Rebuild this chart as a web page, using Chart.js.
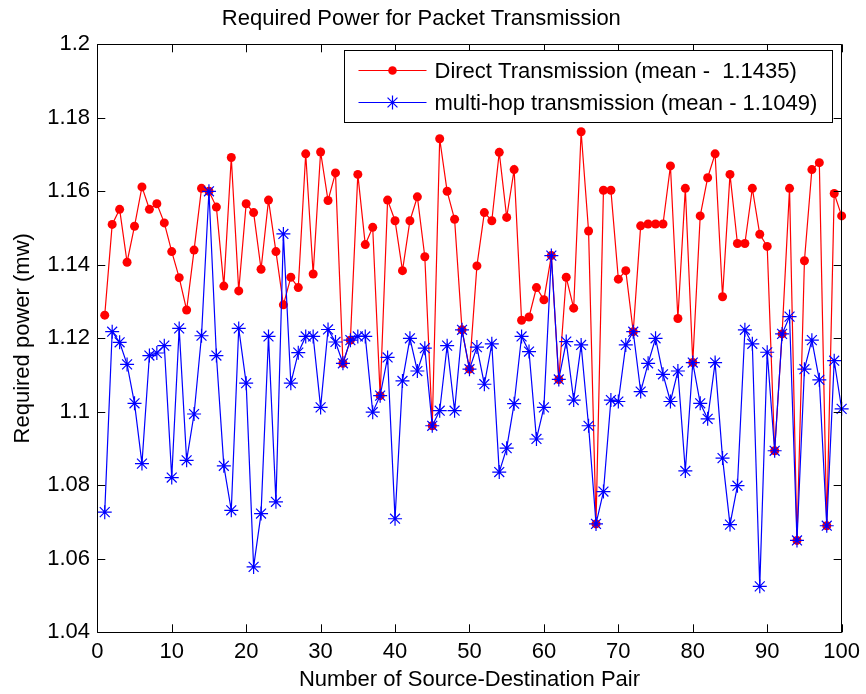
<!DOCTYPE html>
<html>
<head>
<meta charset="utf-8">
<title>Required Power for Packet Transmission</title>
<script src="https://cdn.jsdelivr.net/npm/chart.js@4/dist/chart.umd.min.js"></script>
<style>
  html, body { margin: 0; padding: 0; background: #fff; }
  canvas { display: block; }
</style>
</head>
<body>
<canvas id="chart" width="866" height="694"></canvas>
<script>
// Source-destination pair index (x axis)
const pairIds = Array.from({ length: 100 }, (_, i) => i + 1);

// Required power per pair, direct transmission (mW)
const directPower = [
  1.1263, 1.1510, 1.1551, 1.1407, 1.1505, 1.1612, 1.1551, 1.1566, 1.1514, 1.1436,
  1.1365, 1.1277, 1.1440, 1.1608, 1.1600, 1.1557, 1.1342, 1.1692, 1.1329, 1.1566,
  1.1542, 1.1388, 1.1576, 1.1436, 1.1291, 1.1366, 1.1338, 1.1702, 1.1375, 1.1707,
  1.1575, 1.1650, 1.1132, 1.1195, 1.1646, 1.1455, 1.1502, 1.1044, 1.1576, 1.1520,
  1.1384, 1.1520, 1.1585, 1.1422, 1.0962, 1.1743, 1.1600, 1.1524, 1.1223, 1.1116,
  1.1397, 1.1542, 1.1520, 1.1706, 1.1529, 1.1659, 1.1249, 1.1258, 1.1338, 1.1305,
  1.1425, 1.1088, 1.1366, 1.1282, 1.1762, 1.1492, 1.0695, 1.1603, 1.1603, 1.1361,
  1.1384, 1.1218, 1.1506, 1.1511, 1.1511, 1.1511, 1.1669, 1.1254, 1.1608, 1.1134,
  1.1533, 1.1637, 1.1702, 1.1313, 1.1646, 1.1458, 1.1458, 1.1608, 1.1483, 1.1450,
  1.0894, 1.1212, 1.1608, 1.0650, 1.1411, 1.1659, 1.1678, 1.0690, 1.1594, 1.1533
];

// Required power per pair, multi-hop transmission (mW)
const multiHopPower = [
  1.0727, 1.1218, 1.1189, 1.1129, 1.1023, 1.0859, 1.1153, 1.1160, 1.1180, 1.0821,
  1.1227, 1.0868, 1.0994, 1.1207, 1.1600, 1.1153, 1.0853, 1.0732, 1.1227, 1.1078,
  1.0578, 1.0723, 1.1205, 1.0755, 1.1484, 1.1078, 1.1161, 1.1205, 1.1205, 1.1012,
  1.1224, 1.1190, 1.1132, 1.1195, 1.1205, 1.1205, 1.0999, 1.1044, 1.1148, 1.0709,
  1.1084, 1.1200, 1.1111, 1.1173, 1.0962, 1.1003, 1.1180, 1.1003, 1.1223, 1.1116,
  1.1176, 1.1075, 1.1185, 1.0836, 1.0901, 1.1022, 1.1205, 1.1164, 1.0926, 1.1012,
  1.1425, 1.1088, 1.1191, 1.1032, 1.1182, 1.0962, 1.0695, 1.0783, 1.1032, 1.1028,
  1.1182, 1.1218, 1.1055, 1.1132, 1.1200, 1.1102, 1.1028, 1.1111, 1.0839, 1.1134,
  1.1023, 1.0981, 1.1134, 1.0874, 1.0693, 1.0799, 1.1223, 1.1185, 1.0525, 1.1162,
  1.0894, 1.1212, 1.1259, 1.0650, 1.1116, 1.1195, 1.1087, 1.0690, 1.1139, 1.1008
];

const xTicks = [0, 10, 20, 30, 40, 50, 60, 70, 80, 90, 100];
const yTicks = [1.04, 1.06, 1.08, 1.1, 1.12, 1.14, 1.16, 1.18, 1.2];

const legendLabels = [
  'Direct Transmission (mean -  1.1435)',
  'multi-hop transmission (mean - 1.1049)'
];

const FONT = "'Liberation Sans', Arial, Helvetica, sans-serif";
const RED = '#ff0000';
const BLUE = '#0000ff';

const toPoints = (values) => pairIds.map((x, i) => ({ x, y: values[i] }));

// Box around the axes with inward tick marks on all four sides
const axesBox = {
  id: 'axesBox',
  afterDatasetsDraw(chart) {
    const { ctx, chartArea: a, scales: { x, y } } = chart;
    const tick = 8;
    ctx.save();
    ctx.strokeStyle = '#000';
    ctx.lineWidth = 1;
    ctx.beginPath();
    ctx.rect(Math.round(a.left) + 0.5, Math.round(a.top) + 0.5,
             Math.round(a.right - a.left), Math.round(a.bottom - a.top));
    xTicks.forEach(v => {
      const px = Math.round(x.getPixelForValue(v)) + 0.5;
      ctx.moveTo(px, a.bottom); ctx.lineTo(px, a.bottom - tick);
      ctx.moveTo(px, a.top); ctx.lineTo(px, a.top + tick);
    });
    yTicks.forEach(v => {
      const py = Math.round(y.getPixelForValue(v)) + 0.5;
      ctx.moveTo(a.left, py); ctx.lineTo(a.left + tick, py);
      ctx.moveTo(a.right, py); ctx.lineTo(a.right - tick, py);
    });
    ctx.stroke();
    ctx.restore();
  }
};

// Legend box in the upper right corner of the plot
const boxLegend = {
  id: 'boxLegend',
  afterDraw(chart) {
    const { ctx, chartArea: a } = chart;
    const left = a.right - 10, w = 488, h = 72;
    const bx = Math.round(left - w) + 0.5, by = Math.round(a.top + 6) + 0.5;
    ctx.save();
    ctx.fillStyle = '#fff';
    ctx.fillRect(bx, by, w, h);
    ctx.strokeStyle = '#000';
    ctx.lineWidth = 1;
    ctx.strokeRect(bx, by, w, h);

    const rows = [
      { color: RED, style: 'circle', radius: 4.3, fill: RED, width: 0 },
      { color: BLUE, style: 'star', radius: 7, fill: BLUE, width: 1.2 }
    ];
    rows.forEach((r, i) => {
      const cy = by + 20 + i * 32;
      ctx.strokeStyle = r.color;
      ctx.lineWidth = 1.2;
      ctx.beginPath();
      ctx.moveTo(bx + 14, cy);
      ctx.lineTo(bx + 82, cy);
      ctx.stroke();
      ctx.fillStyle = r.fill;
      Chart.helpers.drawPoint(ctx, {
        pointStyle: r.style, radius: r.radius, borderWidth: r.width, rotation: 0
      }, bx + 48, cy);
      ctx.fillStyle = '#000';
      ctx.font = '22px ' + FONT;
      ctx.textAlign = 'left';
      ctx.textBaseline = 'middle';
      ctx.fillText(legendLabels[i], bx + 90, cy + 1);
    });
    ctx.restore();
  }
};

new Chart(document.getElementById('chart'), {
  type: 'line',
  data: {
    datasets: [
      {
        label: legendLabels[0],
        data: toPoints(directPower),
        borderColor: RED,
        backgroundColor: RED,
        borderWidth: 1.2,
        pointStyle: 'circle',
        pointRadius: 4.5,
        pointBorderWidth: 0,
        pointBackgroundColor: RED,
        tension: 0,
        clip: false,
        order: 2
      },
      {
        label: legendLabels[1],
        data: toPoints(multiHopPower),
        borderColor: BLUE,
        backgroundColor: BLUE,
        borderWidth: 1.2,
        pointStyle: 'star',
        pointRadius: 7,
        pointBorderWidth: 1.2,
        pointBorderColor: BLUE,
        tension: 0,
        clip: false,
        order: 1
      }
    ]
  },
  options: {
    responsive: false,
    animation: false,
    events: [],
    layout: { padding: { top: 0, right: 23.3, bottom: 0, left: 0 } },
    plugins: {
      legend: { display: false },
      tooltip: { enabled: false },
      title: {
        display: true,
        text: 'Required Power for Packet Transmission',
        color: '#000',
        font: { family: FONT, size: 22, weight: 'normal', lineHeight: 1.2 },
        padding: { top: 5.5, bottom: 12.4 }
      }
    },
    scales: {
      x: {
        type: 'linear',
        min: 0,
        max: 100,
        afterBuildTicks: (scale) => { scale.ticks = xTicks.map(v => ({ value: v })); },
        afterFit: (scale) => { scale.height = 61.7; },
        grid: { display: false, drawTicks: false },
        border: { display: false },
        ticks: {
          color: '#000',
          padding: 6,
          maxRotation: 0,
          font: { family: FONT, size: 22 }
        },
        title: {
          display: true,
          text: 'Number of Source-Destination Pair',
          color: '#000',
          font: { family: FONT, size: 22, lineHeight: 1.2 },
          padding: { top: 0, bottom: 1 }
        }
      },
      y: {
        min: 1.04,
        max: 1.2,
        afterBuildTicks: (scale) => { scale.ticks = yTicks.map(v => ({ value: v })); },
        afterFit: (scale) => { scale.width = 97.3; },
        grid: { display: false, drawTicks: false },
        border: { display: false },
        ticks: {
          color: '#000',
          padding: 7.3,
          font: { family: FONT, size: 22 },
          callback: (v) => String(+Number(v).toFixed(2))
        },
        title: {
          display: true,
          text: 'Required power (mw)',
          color: '#000',
          font: { family: FONT, size: 22, lineHeight: 1.2 },
          padding: { top: 9.5, bottom: 0 }
        }
      }
    }
  },
  plugins: [axesBox, boxLegend]
});
</script>
</body>
</html>
